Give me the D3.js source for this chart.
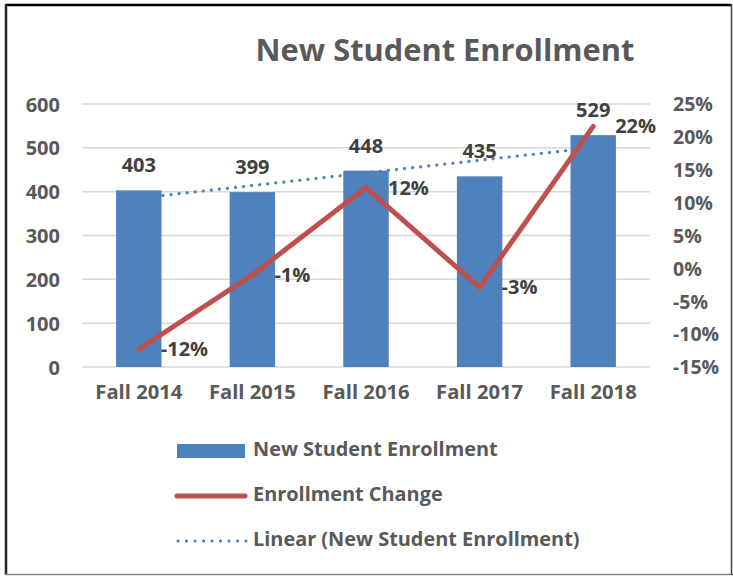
<!DOCTYPE html>
<html><head><meta charset="utf-8">
<script src="https://cdn.jsdelivr.net/npm/d3@7"></script>
<style>body{margin:0;background:#fff}svg{display:block}text{font-family:"Open Sans",Lato,sans-serif;font-weight:bold}</style>
</head><body>
<script>
const categories = ["Fall 2014","Fall 2015","Fall 2016","Fall 2017","Fall 2018"];
const enrollment = [403, 399, 448, 435, 529];
const change = [-0.123, -0.010, 0.123, -0.029, 0.216];
const leftTicks = [0,100,200,300,400,500,600];
const rightTicks = [-0.15,-0.10,-0.05,0,0.05,0.10,0.15,0.20,0.25];
const title = "New Student Enrollment";
const legendLabels = ["New Student Enrollment","Enrollment Change","Linear (New Student Enrollment)"];

const W=733,H=576;
const pct=d3.formatLocale({decimal:".",thousands:",",grouping:[3],currency:["",""],minus:"-"}).format(".0%");
const svg=d3.select("body").append("svg").attr("width",W).attr("height",H);
svg.append("rect").attr("width",W).attr("height",H).attr("fill","#fff");
// border
svg.append("line").attr("x1",5).attr("x2",731).attr("y1",5).attr("y2",5).attr("stroke","#000").attr("stroke-width",2.5);
svg.append("line").attr("x1",6).attr("x2",6).attr("y1",4).attr("y2",575).attr("stroke","#222").attr("stroke-width",2.5);
svg.append("line").attr("x1",5).attr("x2",733).attr("y1",574.5).attr("y2",574.5).attr("stroke","#888").attr("stroke-width",1.5);
svg.append("line").attr("x1",731.5).attr("x2",731.5).attr("y1",4).attr("y2",575).attr("stroke","#444").attr("stroke-width",1.5);

const L=82,R=650,T=104,B=367;
const x=d3.scaleBand().domain(categories).range([L,R]).paddingInner(0.6).paddingOuter(0.3);
const y=d3.scaleLinear().domain([0,600]).range([B,T]);
const y2=d3.scaleLinear().domain([-0.15,0.25]).range([B,T]);
const cx=d=>x(d)+x.bandwidth()/2;

svg.append("text").attr("x",445).attr("y",60.5).attr("text-anchor","middle").attr("fill","#595959").style("font-size","30.8px").text(title);

// grid
svg.append("g").selectAll("line").data(leftTicks).join("line")
 .attr("x1",L).attr("x2",R).attr("y1",d=>y(d)).attr("y2",d=>y(d)).attr("stroke","#d9d9d9").attr("stroke-width",1.5);

// left axis
const ga=svg.append("g").attr("transform",`translate(${L},0)`).call(d3.axisLeft(y).tickValues(leftTicks).tickSize(0).tickPadding(22));
ga.select(".domain").remove();
ga.selectAll("text").attr("fill","#595959").style("font-size","20px").style("font-family","Open Sans").attr("dy","0.35em");
// right axis
const gr=svg.append("g").attr("transform",`translate(${R},0)`).call(d3.axisRight(y2).tickValues(rightTicks).tickSize(0).tickPadding(23).tickFormat(pct));
gr.select(".domain").remove();
gr.selectAll("text").attr("fill","#595959").style("font-size","19.5px").style("font-family","Open Sans").attr("dy","0.35em");
// bottom axis
const gb=svg.append("g").attr("transform",`translate(0,${B})`).call(d3.axisBottom(x).tickSize(0).tickPadding(18));
gb.select(".domain").remove();
gb.selectAll("text").attr("fill","#595959").style("font-size","20.2px").style("font-family","Open Sans");

// bars
svg.append("g").selectAll("rect").data(enrollment).join("rect")
 .attr("x",(d,i)=>x(categories[i])).attr("width",x.bandwidth())
 .attr("y",d=>y(d)).attr("height",d=>B-y(d)).attr("fill","#4f81bd");

// trendline
const n=enrollment.length, xs=d3.range(1,n+1);
const mx=d3.mean(xs), my=d3.mean(enrollment);
const slope=d3.sum(xs.map((v,i)=>(v-mx)*(enrollment[i]-my)))/d3.sum(xs.map(v=>(v-mx)**2));
const icpt=my-slope*mx;
svg.append("line").attr("x1",cx(categories[0])).attr("x2",cx(categories[n-1]))
 .attr("y1",y(icpt+slope*1)).attr("y2",y(icpt+slope*n))
 .attr("stroke","#4f81bd").attr("stroke-width",3.2).attr("stroke-linecap","round").attr("stroke-dasharray","0.1 8");

// bar labels
svg.append("g").selectAll("text").data(enrollment).join("text")
 .attr("x",(d,i)=>cx(categories[i])).attr("y",d=>y(d)-18).attr("text-anchor","middle")
 .attr("fill","#404040").style("font-size","20px").text(d=>d);

// change line
const line=d3.line().x((d,i)=>cx(categories[i])).y(d=>y2(d));
svg.append("path").datum(change).attr("d",line).attr("fill","none").attr("stroke","#c0504d")
 .attr("stroke-width",5).attr("stroke-linecap","round").attr("stroke-linejoin","round");
svg.append("g").selectAll("text").data(change).join("text")
 .attr("x",(d,i)=>cx(categories[i])+22).attr("y",d=>y2(d)).attr("dy","0.35em")
 .attr("fill","#404040").style("font-size","20px").text(d=>pct(d));

// legend
const lg=svg.append("g");
lg.append("rect").attr("x",177).attr("y",444).attr("width",68).attr("height",14).attr("fill","#4f81bd");
lg.append("line").attr("x1",177).attr("x2",245).attr("y1",496).attr("y2",496).attr("stroke","#c0504d").attr("stroke-width",5).attr("stroke-linecap","round");
lg.append("line").attr("x1",178).attr("x2",246).attr("y1",541).attr("y2",541).attr("stroke","#4f81bd").attr("stroke-width",3.2).attr("stroke-linecap","round").attr("stroke-dasharray","0.1 8.4");
lg.selectAll("text").data(legendLabels).join("text")
 .attr("x",253).attr("y",(d,i)=>449.5+i*45).attr("dy","0.35em").attr("fill","#595959").style("font-size","19.9px").text(d=>d);
</script>
</body></html>
